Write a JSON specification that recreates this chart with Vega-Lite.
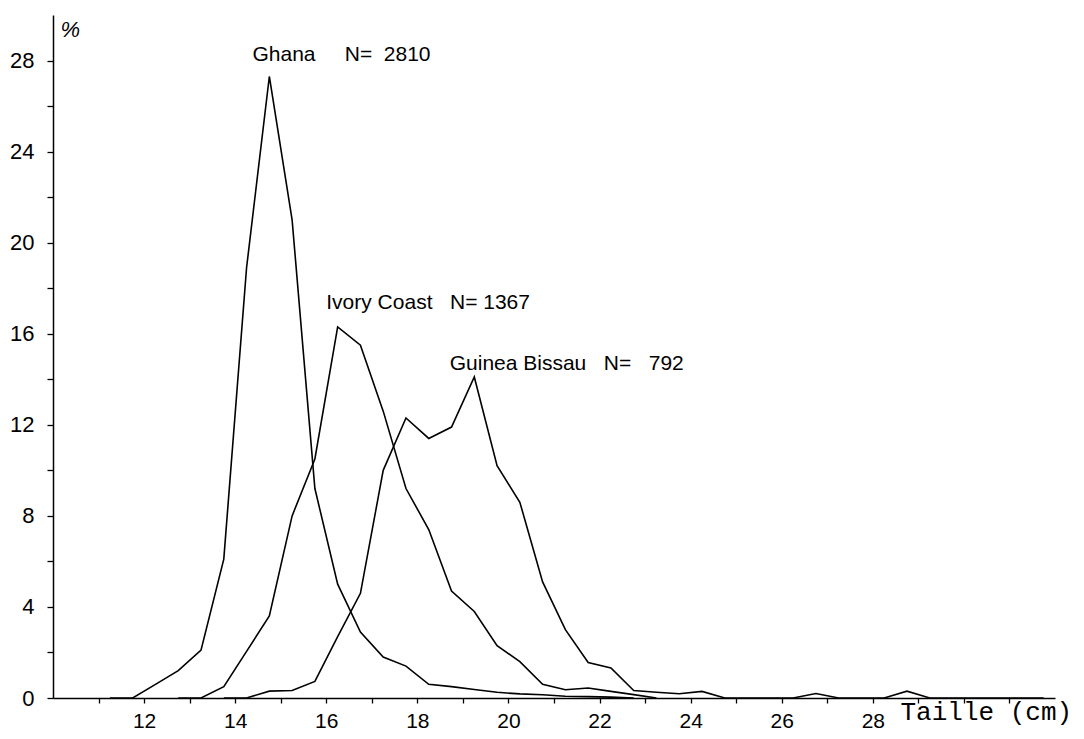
{
  "$schema": "https://vega.github.io/schema/vega-lite/v6.json",
  "width": 1002,
  "height": 683,
  "autosize": {"type": "none"},
  "padding": {"left": 53, "top": 15, "right": 29, "bottom": 41},
  "background": "white",
  "config": {
    "view": {"stroke": null},
    "axis": {
      "grid": false,
      "domainColor": "#000",
      "domainWidth": 1.5,
      "tickColor": "#000",
      "tickWidth": 1.3,
      "labelColor": "#000",
      "titleColor": "#000",
      "labelFont": "Liberation Sans",
      "labelOverlap": false,
      "labelFlush": false
    }
  },
  "datasets": {
    "dist": [
      {"pays": "Ghana", "taille": 11.25, "pct": 0},
      {"pays": "Ghana", "taille": 11.75, "pct": 0},
      {"pays": "Ghana", "taille": 12.25, "pct": 0.6},
      {"pays": "Ghana", "taille": 12.75, "pct": 1.2},
      {"pays": "Ghana", "taille": 13.25, "pct": 2.1},
      {"pays": "Ghana", "taille": 13.75, "pct": 6.1},
      {"pays": "Ghana", "taille": 14.25, "pct": 18.9},
      {"pays": "Ghana", "taille": 14.75, "pct": 27.3},
      {"pays": "Ghana", "taille": 15.25, "pct": 21.0},
      {"pays": "Ghana", "taille": 15.75, "pct": 9.2},
      {"pays": "Ghana", "taille": 16.25, "pct": 5.0},
      {"pays": "Ghana", "taille": 16.75, "pct": 2.9},
      {"pays": "Ghana", "taille": 17.25, "pct": 1.8},
      {"pays": "Ghana", "taille": 17.75, "pct": 1.4},
      {"pays": "Ghana", "taille": 18.25, "pct": 0.6},
      {"pays": "Ghana", "taille": 18.75, "pct": 0.5},
      {"pays": "Ghana", "taille": 19.25, "pct": 0.37},
      {"pays": "Ghana", "taille": 19.75, "pct": 0.25},
      {"pays": "Ghana", "taille": 20.25, "pct": 0.18},
      {"pays": "Ghana", "taille": 20.75, "pct": 0.14},
      {"pays": "Ghana", "taille": 21.25, "pct": 0.08},
      {"pays": "Ghana", "taille": 21.75, "pct": 0.06},
      {"pays": "Ghana", "taille": 22.25, "pct": 0.04},
      {"pays": "Ghana", "taille": 22.75, "pct": 0},
      {"pays": "Ivory Coast", "taille": 12.75, "pct": 0},
      {"pays": "Ivory Coast", "taille": 13.25, "pct": 0},
      {"pays": "Ivory Coast", "taille": 13.75, "pct": 0.5},
      {"pays": "Ivory Coast", "taille": 14.25, "pct": 2.05},
      {"pays": "Ivory Coast", "taille": 14.75, "pct": 3.6},
      {"pays": "Ivory Coast", "taille": 15.25, "pct": 8.0},
      {"pays": "Ivory Coast", "taille": 15.75, "pct": 10.5},
      {"pays": "Ivory Coast", "taille": 16.25, "pct": 16.3},
      {"pays": "Ivory Coast", "taille": 16.75, "pct": 15.5},
      {"pays": "Ivory Coast", "taille": 17.25, "pct": 12.6},
      {"pays": "Ivory Coast", "taille": 17.75, "pct": 9.2},
      {"pays": "Ivory Coast", "taille": 18.25, "pct": 7.4},
      {"pays": "Ivory Coast", "taille": 18.75, "pct": 4.7},
      {"pays": "Ivory Coast", "taille": 19.25, "pct": 3.8},
      {"pays": "Ivory Coast", "taille": 19.75, "pct": 2.3},
      {"pays": "Ivory Coast", "taille": 20.25, "pct": 1.6},
      {"pays": "Ivory Coast", "taille": 20.75, "pct": 0.6},
      {"pays": "Ivory Coast", "taille": 21.25, "pct": 0.36},
      {"pays": "Ivory Coast", "taille": 21.75, "pct": 0.44},
      {"pays": "Ivory Coast", "taille": 22.25, "pct": 0.29},
      {"pays": "Ivory Coast", "taille": 22.75, "pct": 0.15},
      {"pays": "Ivory Coast", "taille": 23.25, "pct": 0},
      {"pays": "Guinea Bissau", "taille": 13.75, "pct": 0},
      {"pays": "Guinea Bissau", "taille": 14.25, "pct": 0},
      {"pays": "Guinea Bissau", "taille": 14.75, "pct": 0.3},
      {"pays": "Guinea Bissau", "taille": 15.25, "pct": 0.33},
      {"pays": "Guinea Bissau", "taille": 15.75, "pct": 0.73},
      {"pays": "Guinea Bissau", "taille": 16.25, "pct": 2.7},
      {"pays": "Guinea Bissau", "taille": 16.75, "pct": 4.6},
      {"pays": "Guinea Bissau", "taille": 17.25, "pct": 10.0},
      {"pays": "Guinea Bissau", "taille": 17.75, "pct": 12.3},
      {"pays": "Guinea Bissau", "taille": 18.25, "pct": 11.4},
      {"pays": "Guinea Bissau", "taille": 18.75, "pct": 11.9},
      {"pays": "Guinea Bissau", "taille": 19.25, "pct": 14.1},
      {"pays": "Guinea Bissau", "taille": 19.75, "pct": 10.2},
      {"pays": "Guinea Bissau", "taille": 20.25, "pct": 8.6},
      {"pays": "Guinea Bissau", "taille": 20.75, "pct": 5.1},
      {"pays": "Guinea Bissau", "taille": 21.25, "pct": 3.0},
      {"pays": "Guinea Bissau", "taille": 21.75, "pct": 1.56},
      {"pays": "Guinea Bissau", "taille": 22.25, "pct": 1.32},
      {"pays": "Guinea Bissau", "taille": 22.75, "pct": 0.33},
      {"pays": "Guinea Bissau", "taille": 23.25, "pct": 0.25},
      {"pays": "Guinea Bissau", "taille": 23.75, "pct": 0.19},
      {"pays": "Guinea Bissau", "taille": 24.25, "pct": 0.29},
      {"pays": "Guinea Bissau", "taille": 24.75, "pct": 0},
      {"pays": "Guinea Bissau", "taille": 25.25, "pct": 0},
      {"pays": "Guinea Bissau", "taille": 25.75, "pct": 0},
      {"pays": "Guinea Bissau", "taille": 26.25, "pct": 0},
      {"pays": "Guinea Bissau", "taille": 26.75, "pct": 0.2},
      {"pays": "Guinea Bissau", "taille": 27.25, "pct": 0},
      {"pays": "Guinea Bissau", "taille": 27.75, "pct": 0},
      {"pays": "Guinea Bissau", "taille": 28.25, "pct": 0},
      {"pays": "Guinea Bissau", "taille": 28.75, "pct": 0.3},
      {"pays": "Guinea Bissau", "taille": 29.25, "pct": 0},
      {"pays": "Guinea Bissau", "taille": 29.75, "pct": 0},
      {"pays": "Guinea Bissau", "taille": 30.25, "pct": 0},
      {"pays": "Guinea Bissau", "taille": 30.75, "pct": 0},
      {"pays": "Guinea Bissau", "taille": 31.25, "pct": 0},
      {"pays": "Guinea Bissau", "taille": 31.75, "pct": 0}
    ],
    "labels": [
      {"pays": "Ghana", "texte": "Ghana\u00a0\u00a0\u00a0\u00a0\u00a0N=\u00a0\u00a02810", "taille": 14.38, "pct": 27.96},
      {"pays": "Ivory Coast", "texte": "Ivory Coast\u00a0\u00a0\u00a0N=\u00a01367", "taille": 16.0, "pct": 17.1},
      {"pays": "Guinea Bissau", "texte": "Guinea Bissau\u00a0\u00a0\u00a0N=\u00a0\u00a0\u00a0792", "taille": 18.71, "pct": 14.42}
    ]
  },
  "layer": [
    {
      "data": {"name": "dist"},
      "mark": {"type": "line", "color": "#000", "strokeWidth": 1.6, "interpolate": "linear"},
      "encoding": {
        "x": {
          "field": "taille",
          "type": "quantitative",
          "scale": {"domain": [10, 32], "nice": false, "zero": false},
          "axis": {
            "values": [11, 12, 13, 14, 15, 16, 17, 18, 19, 20, 21, 22, 23, 24, 25, 26, 27, 28, 29, 30, 31],
            "labelExpr": "datum.value >= 12 && datum.value <= 28 && datum.value % 2 == 0 ? datum.label : ''",
            "tickSize": 5,
            "labelPadding": 7,
            "labelFontSize": 21,
            "title": "Taille (cm)",
            "titleFont": "Liberation Mono",
            "titleFontSize": 26,
            "titleFontWeight": "normal",
            "titleX": 847,
            "titleY": 21,
            "titleAlign": "left",
            "titleBaseline": "alphabetic"
          }
        },
        "y": {
          "field": "pct",
          "type": "quantitative",
          "scale": {"domain": [0, 30], "nice": false},
          "axis": {
            "values": [0, 2, 4, 6, 8, 10, 12, 14, 16, 18, 20, 22, 24, 26, 28],
            "labelExpr": "datum.value % 4 == 0 ? datum.label : ''",
            "tickSize": 6,
            "labelPadding": 13,
            "labelFontSize": 22,
            "title": "%",
            "titleAngle": 0,
            "titleX": 7,
            "titleY": 21,
            "titleAlign": "left",
            "titleBaseline": "alphabetic",
            "titleFont": "Liberation Sans",
            "titleFontSize": 22,
            "titleFontWeight": "normal",
            "titleFontStyle": "italic"
          }
        },
        "detail": {"field": "pays"}
      }
    },
    {
      "data": {"name": "labels"},
      "mark": {"type": "text", "align": "left", "baseline": "alphabetic", "font": "Liberation Sans", "fontSize": 21, "color": "#000"},
      "encoding": {
        "x": {"field": "taille", "type": "quantitative"},
        "y": {"field": "pct", "type": "quantitative"},
        "text": {"field": "texte"}
      }
    }
  ]
}
